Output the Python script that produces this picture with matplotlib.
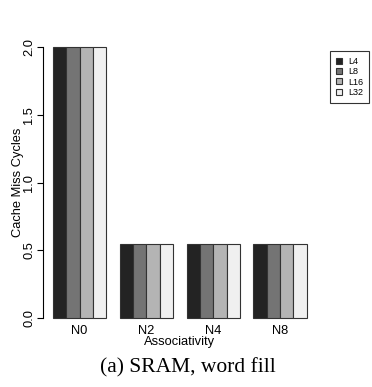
import numpy as np
import matplotlib
matplotlib.use("Agg")
import matplotlib.pyplot as plt

# Data
groups = ["N0", "N2", "N4", "N8"]
series = ["L4", "L8", "L16", "L32"]
values = {
    "L4": [2.0, 0.55, 0.55, 0.55],
    "L8": [2.0, 0.55, 0.55, 0.55],
    "L16": [2.0, 0.55, 0.55, 0.55],
    "L32": [2.0, 0.55, 0.55, 0.55],
}
colors = ["#232323", "#747474", "#b4b4b4", "#f0f0f0"]

plt.rcParams["font.family"] = ["Liberation Sans", "DejaVu Sans"]

fig = plt.figure(figsize=(3.72, 3.87), dpi=100)
ax = fig.add_axes([0.115, 0.150, 0.737, 0.756])

# R-style beside barplot: bar width 1, gap of 1 between groups
handles = []
for k, name in enumerate(series):
    x = np.arange(len(groups)) * 5 + 1 + k
    b = ax.bar(x, values[name], width=1, align="edge", color=colors[k],
               edgecolor="#333333", linewidth=0.8, label=name)
    handles.append(b)

ax.set_xlim(0.24, 20.76)
ax.set_ylim(-0.08, 2.08)
ax.set_yticks([0.0, 0.5, 1.0, 1.5, 2.0])
ax.set_yticklabels(["0.0", "0.5", "1.0", "1.5", "2.0"], rotation=90, va="center", fontsize=9.3)
ax.set_xticks(np.arange(len(groups)) * 5 + 3)
ax.set_xticklabels(groups, fontsize=9.3)
ax.tick_params(axis="x", length=0, pad=-2.7)
ax.tick_params(axis="y", length=4, width=0.8, pad=1.5)
for s in ["top", "right", "bottom"]:
    ax.spines[s].set_visible(False)
ax.spines["left"].set_bounds(0, 2)
ax.spines["left"].set_linewidth(0.8)

ax.set_ylabel("Cache Miss Cycles", fontsize=9.3, labelpad=-0.5)
ax.set_xlabel("Associativity", fontsize=9.3, labelpad=-1)

leg = fig.legend(handles=handles, loc="upper left", bbox_to_anchor=(330 / 372, 1 - 51 / 387),
                 fontsize=6.5, frameon=True, fancybox=False, edgecolor="black",
                 handlelength=0.65, handleheight=0.65, handletextpad=0.7, borderpad=0.65,
                 labelspacing=0.15, borderaxespad=0)
leg.get_frame().set_linewidth(0.8)

fig.text(0.505, 1 - 372 / 387, "(a) SRAM, word fill", ha="center", va="baseline",
         fontsize=15.5, family=["Liberation Serif", "DejaVu Serif"])

fig.savefig("out.png", dpi=100)
